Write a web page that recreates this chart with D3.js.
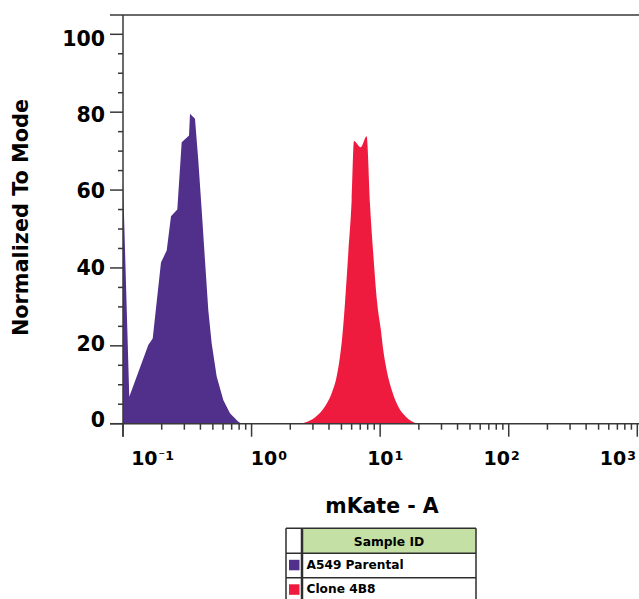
<!DOCTYPE html>
<html>
<head>
<meta charset="utf-8">
<script src="https://cdn.jsdelivr.net/npm/d3@7/dist/d3.min.js"></script>
<style>
  body { margin: 0; background: #fff; }
  svg text { font-family: "DejaVu Sans", Verdana, sans-serif; font-weight: bold; fill: #000; }
</style>
</head>
<body>
<svg id="chart" width="639" height="599"></svg>
<script>
// histogram outlines (mKate - A, % of mode)
const parentalX = [0.1, 0.1119, 0.1573, 0.1702, 0.1974, 0.2187, 0.2362, 0.2644, 0.2860, 0.3261, 0.3319, 0.3630,
                   0.3850, 0.4093, 0.4342, 0.4606, 0.4896, 0.5354, 0.6025, 0.6793, 0.7884, 0.8375];
const parentalY = [62.5, 6.9, 20.2, 21.9, 41.4, 44.5, 53.3, 55.0, 72.3, 74.0, 79.6, 78.3,
                   67.7, 54.9, 42.0, 29.2, 20.6, 12.1, 6.1, 2.7, 0.5, 0];
const cloneX = [2.378, 2.602, 3.112, 3.723, 4.197, 4.588, 4.869, 5.074, 5.324, 5.648, 6.003, 6.256, 7.055, 7.853,
                8.331, 8.838, 9.493, 10.14, 10.57, 11.23, 12.29, 13.82, 16.07, 19.22];
const cloneY = [0, 0.3, 1.6, 4.4, 7.8, 12.1, 17.2, 22.3, 30.9, 43.7, 57.4, 72.6, 71.0, 73.8,
                56.5, 43.7, 30.9, 24.0, 18.9, 13.8, 8.7, 4.4, 1.6, 0];

const sampleNames = ['A549 Parental', 'Clone 4B8'];
const sampleColors = ['#51308c', '#ee1b3e'];

const yTicks = [0, 20, 40, 60, 80, 100];
const xDecades = [0.1, 1, 10, 100, 1000];
const xExponents = ['\u207B1', '0', '1', '2', '3'];

const svg = d3.select('#chart');
const axisColor = '#383838';

const x = d3.scaleLog().domain([0.1, 1000]).range([123, 637.3]);
const y = d3.scaleLinear().domain([0, 100]).range([423.7, 34.3]);
const plotTop = 15, plotRight = 639;

svg.append('clipPath').attr('id', 'plot')
  .append('rect')
  .attr('x', x(0.1)).attr('y', plotTop)
  .attr('width', plotRight - x(0.1)).attr('height', y(0) - plotTop);

const areaSharp = d3.area()
  .x(d => x(d[0]))
  .y0(y(0))
  .y1(d => y(d[1]));
const areaSmooth = d3.area()
  .curve(d3.curveMonotoneX)
  .x(d => x(d[0]))
  .y0(y(0))
  .y1(d => y(d[1]));

const plot = svg.append('g').attr('clip-path', 'url(#plot)');
plot.append('path')
  .attr('d', areaSharp(d3.zip(parentalX, parentalY)))
  .attr('fill', sampleColors[0]);
plot.append('path')
  .attr('d', areaSmooth(d3.zip(cloneX, cloneY)))
  .attr('fill', sampleColors[1]);

// axes lines
const axes = svg.append('g').attr('stroke', axisColor).attr('stroke-width', 1.5);
axes.append('line').attr('x1', 110).attr('x2', plotRight).attr('y1', plotTop).attr('y2', plotTop);
axes.append('line').attr('x1', x(0.1)).attr('x2', x(0.1)).attr('y1', plotTop).attr('y2', y(0) + 13);
axes.append('line').attr('x1', 110).attr('x2', plotRight).attr('y1', y(0)).attr('y2', y(0));

// y ticks
const yMinor = d3.range(0, 101, 5).filter(v => v % 20 !== 0);
axes.selectAll('.ymaj').data(yTicks).enter().append('line')
  .attr('x1', x(0.1) - 13).attr('x2', x(0.1))
  .attr('y1', d => y(d)).attr('y2', d => y(d));
axes.selectAll('.ymin').data(yMinor).enter().append('line')
  .attr('x1', x(0.1) - 5).attr('x2', x(0.1))
  .attr('y1', d => y(d)).attr('y2', d => y(d));

// x ticks
const xMinor = [];
xDecades.slice(0, -1).forEach(d => d3.range(2, 10).forEach(m => xMinor.push(d * m)));
axes.selectAll('.xmaj').data(xDecades).enter().append('line')
  .attr('x1', d => x(d)).attr('x2', d => x(d))
  .attr('y1', y(0)).attr('y2', y(0) + 13);
axes.selectAll('.xmin').data(xMinor).enter().append('line')
  .attr('x1', d => x(d)).attr('x2', d => x(d))
  .attr('y1', y(0)).attr('y2', y(0) + 6);

// y tick labels (spread a little tighter than the ticks, like the original)
const yMid = (y(0) + y(100)) / 2;
svg.selectAll('.ylab').data(yTicks).enter().append('text')
  .attr('x', 105)
  .attr('y', d => yMid + (y(d) - yMid) * 0.98)
  .attr('dy', '0.36em')
  .attr('text-anchor', 'end')
  .style('font-size', '20.5px')
  .text(d => d);

// x tick labels 10^n
const xLab = svg.selectAll('.xlab').data(xDecades).enter().append('text')
  .attr('x', d => x(0.1) + 29.5 + (x(d) - x(0.1)) * 0.905)
  .attr('y', 465)
  .attr('text-anchor', 'middle')
  .style('font-size', '19px');
xLab.append('tspan').text('10');
xLab.append('tspan')
  .attr('dx', 1).attr('dy', -5)
  .style('font-size', '12.5px')
  .text((d, i) => xExponents[i]);

// axis titles
svg.append('text')
  .attr('x', 382).attr('y', 512.5)
  .attr('text-anchor', 'middle')
  .style('font-size', '20.5px')
  .text('mKate - A');

svg.append('text')
  .attr('transform', 'translate(28.3,217.5) rotate(-90)')
  .attr('text-anchor', 'middle')
  .style('font-size', '20.8px')
  .text('Normalized To Mode');

// legend table
const lg = { left: 286, div: 302, right: 476, top: 528.3, rowH: 24.5, headH: 25 };
const legend = svg.append('g');
const rows = sampleNames.length;
const bottom = lg.top + lg.headH + lg.rowH * rows;

legend.append('rect')
  .attr('x', lg.div).attr('y', lg.top)
  .attr('width', lg.right - lg.div).attr('height', lg.headH)
  .attr('fill', '#c5e0a5');

const lines = legend.append('g').attr('stroke', '#2e2e2e').attr('stroke-width', 1.5);
lines.append('line').attr('x1', lg.left).attr('x2', lg.left).attr('y1', lg.top).attr('y2', bottom);
lines.append('line').attr('x1', lg.right).attr('x2', lg.right).attr('y1', lg.top).attr('y2', bottom);
lines.append('line').attr('x1', lg.div).attr('x2', lg.div).attr('y1', lg.top).attr('y2', bottom)
  .attr('stroke-width', 2.5);
lines.selectAll('.hl').data(d3.range(rows + 2)).enter().append('line')
  .attr('x1', lg.left).attr('x2', lg.right)
  .attr('y1', i => i === 0 ? lg.top : lg.top + lg.headH + lg.rowH * (i - 1))
  .attr('y2', i => i === 0 ? lg.top : lg.top + lg.headH + lg.rowH * (i - 1));

legend.append('text')
  .attr('x', (lg.div + lg.right) / 2).attr('y', lg.top + 17.7)
  .attr('text-anchor', 'middle')
  .style('font-size', '12.3px')
  .text('Sample ID');

legend.selectAll('.sw').data(sampleNames).enter().append('rect')
  .attr('x', lg.left + 3).attr('y', (d, i) => lg.top + lg.headH + lg.rowH * i + 6.5)
  .attr('width', 10.5).attr('height', 10.5)
  .attr('fill', (d, i) => sampleColors[i]);

legend.selectAll('.nm').data(sampleNames).enter().append('text')
  .attr('x', lg.div + 4.5).attr('y', (d, i) => lg.top + lg.headH + lg.rowH * i + 15.5)
  .style('font-size', '12.2px')
  .text(d => d);
</script>
</body>
</html>
